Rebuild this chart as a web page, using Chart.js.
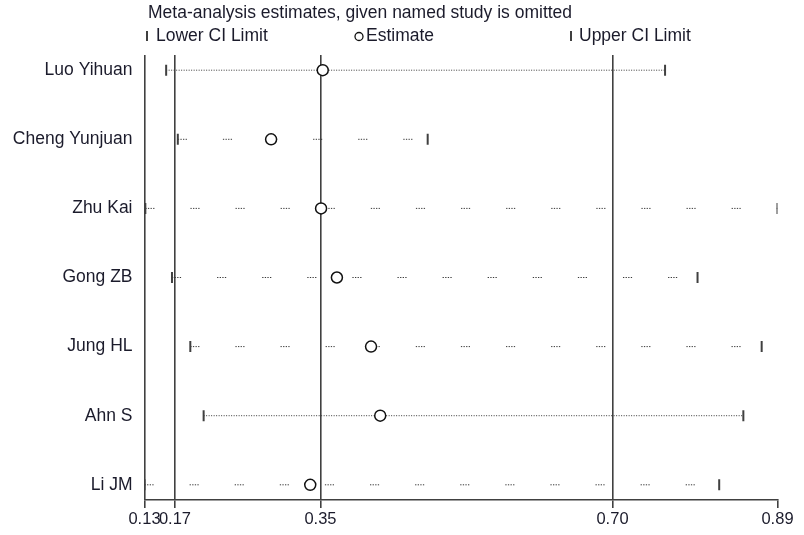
<!DOCTYPE html>
<html>
<head>
<meta charset="utf-8">
<script src="https://cdn.jsdelivr.net/npm/chart.js@4.4.0/dist/chart.umd.min.js"></script>
<style>
  html, body { margin: 0; padding: 0; background: #fff; }
  canvas { display: block; }
</style>
</head>
<body>
<canvas id="chart" width="804" height="535"></canvas>
<script>
// Data
const studies = ['Luo Yihuan', 'Cheng Yunjuan', 'Zhu Kai', 'Gong ZB', 'Jung HL', 'Ahn S', 'Li JM'];
const lowerCI = [0.156, 0.170, 0.131, 0.163, 0.185, 0.201, 0.130];
const estimate = [0.344, 0.282, 0.342, 0.361, 0.402, 0.413, 0.329];
const upperCI = [0.755, 0.470, 0.890, 0.794, 0.871, 0.849, 0.820];

const xTickValues = [0.13, 0.1666, 0.3413, 0.6919, 0.89];
const xTickLabels = ['0.13', '0.17', '0.35', '0.70', '0.89'];

const titleText = 'Meta-analysis estimates, given named study is omitted';
const legendLabels = ['Lower CI Limit', 'Estimate', 'Upper CI Limit'];

// Styles
const textColor = '#1b1b2b';
const lineColor = '#404040';
const dotColor = '#3a3a3a';
const fontFamily = '"Liberation Sans", Arial, sans-serif';
const groupDash = [1.3, 1.3, 1.3, 1.3, 1.3, 1.3, 1.3, 36];
const rowDashes = [
    [1, 1.5],
    groupDash,
    groupDash,
    groupDash,
    groupDash,
    [1, 1.5],
    groupDash
];

// Title and legend drawn at the top
const headerPlugin = {
    id: 'header',
    afterDraw(chart) {
        const ctx = chart.ctx;
        ctx.save();
        ctx.fillStyle = textColor;
        ctx.font = '17.5px ' + fontFamily;
        ctx.textBaseline = 'middle';
        ctx.fillText(titleText, 148, 13);

        // Lower CI marker
        ctx.fillStyle = lineColor;
        ctx.fillRect(146, 31, 2, 10);
        ctx.fillStyle = textColor;
        ctx.fillText(legendLabels[0], 156, 36);

        // Estimate marker
        ctx.beginPath();
        ctx.arc(359, 36.5, 4, 0, Math.PI * 2);
        ctx.strokeStyle = '#111';
        ctx.lineWidth = 1.3;
        ctx.stroke();
        ctx.fillText(legendLabels[1], 366, 36);

        // Upper CI marker
        ctx.fillStyle = lineColor;
        ctx.fillRect(570, 31, 2, 10);
        ctx.fillStyle = textColor;
        ctx.fillText(legendLabels[2], 579, 36);
        ctx.restore();
    }
};

// Build datasets
const datasets = [];

datasets.push({
    type: 'scatter',
    label: 'Estimate',
    data: studies.map((s, i) => ({ x: estimate[i], y: i + 1 })),
    pointStyle: 'circle',
    pointRadius: 5.5,
    pointBorderWidth: 1.5,
    pointBorderColor: '#111',
    pointBackgroundColor: '#fff',
    order: 0
});

datasets.push({
    type: 'scatter',
    label: 'Lower CI Limit',
    data: studies.map((s, i) => ({ x: lowerCI[i], y: i + 1 })),
    pointStyle: 'line',
    rotation: 90,
    pointRadius: 5.5,
    pointBorderWidth: 2,
    pointBorderColor: lineColor,
    order: 1
});

datasets.push({
    type: 'scatter',
    label: 'Upper CI Limit',
    data: studies.map((s, i) => ({ x: upperCI[i], y: i + 1 })),
    pointStyle: 'line',
    rotation: 90,
    pointRadius: 5.5,
    pointBorderWidth: 2,
    pointBorderColor: lineColor,
    order: 1
});

studies.forEach((s, i) => {
    datasets.push({
        type: 'line',
        label: s,
        data: [{ x: lowerCI[i], y: i + 1 }, { x: upperCI[i], y: i + 1 }],
        borderColor: dotColor,
        borderWidth: 1,
        borderDash: rowDashes[i],
        pointRadius: 0,
        fill: false,
        order: 2
    });
});

new Chart(document.getElementById('chart'), {
    type: 'scatter',
    data: { datasets },
    options: {
        responsive: false,
        animation: false,
        events: [],
        layout: { padding: { top: 55, left: 0, right: 26.5, bottom: 0 } },
        plugins: {
            legend: { display: false },
            title: { display: false },
            tooltip: { enabled: false }
        },
        scales: {
            x: {
                type: 'linear',
                min: 0.13,
                max: 0.89,
                afterBuildTicks: scale => {
                    scale.ticks = xTickValues.map(v => ({ value: v }));
                },
                afterFit: scale => { scale.height = 35; },
                ticks: {
                    autoSkip: false,
                    maxRotation: 0,
                    padding: 2,
                    color: textColor,
                    font: { family: fontFamily, size: 16.5 },
                    callback: (value, index) => xTickLabels[index]
                },
                grid: {
                    color: ctx => ctx.index === xTickValues.length - 1 ? 'rgba(0,0,0,0)' : lineColor,
                    tickColor: lineColor,
                    lineWidth: 1.6,
                    tickLength: 8
                },
                border: { display: true, color: lineColor, width: 1.6 }
            },
            y: {
                type: 'linear',
                min: 0.78,
                max: 7.22,
                reverse: true,
                afterBuildTicks: scale => {
                    scale.ticks = studies.map((s, i) => ({ value: i + 1 }));
                },
                afterFit: scale => { scale.width = 144.5; },
                ticks: {
                    autoSkip: false,
                    padding: 12,
                    color: textColor,
                    font: { family: fontFamily, size: 17.5 },
                    callback: (value, index) => studies[index]
                },
                grid: { display: false, drawTicks: false },
                border: { display: false }
            }
        }
    },
    plugins: [headerPlugin]
});
</script>
</body>
</html>
